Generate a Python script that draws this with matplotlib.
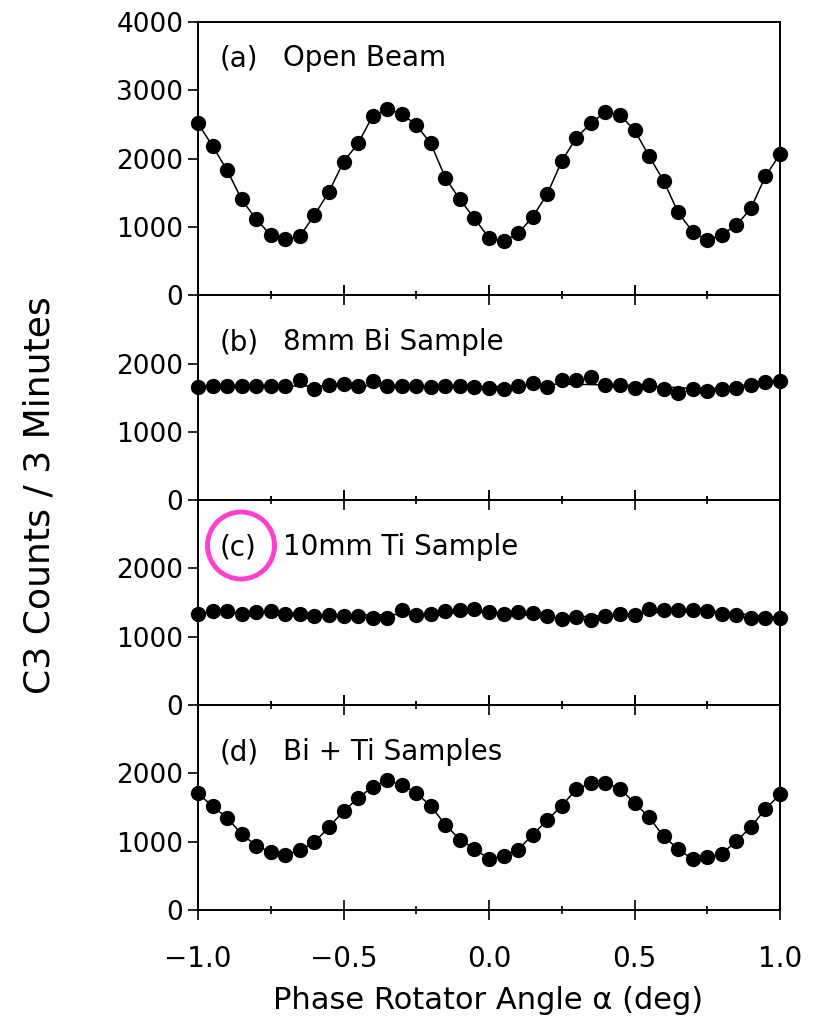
import matplotlib
matplotlib.use("Agg")
import matplotlib.pyplot as plt
from matplotlib.patches import Ellipse
import numpy as np

# phase rotator angle (deg), 41 points
alpha = np.round(np.linspace(-1.0, 1.0, 41), 2)

# (a) open beam
cnt_a = [2516, 2183, 1831, 1402, 1113, 879, 816, 864, 1172, 1514, 1953,
         2222, 2623, 2720, 2657, 2491, 2222, 1719, 1402, 1124, 840,
         791, 904, 1148, 1480, 1963, 2305, 2516, 2686, 2637, 2418,
         2037, 1675, 1212, 928, 806, 889, 1026, 1270, 1744, 2062]
# (b) 8mm Bi sample
cnt_b = [1652, 1667, 1676, 1676, 1676, 1667, 1667, 1760, 1627, 1680, 1700,
         1667, 1740, 1667, 1667, 1667, 1660, 1667, 1667, 1660, 1642,
         1627, 1676, 1716, 1657, 1755, 1765, 1804, 1691, 1691, 1642,
         1691, 1627, 1569, 1632, 1593, 1627, 1642, 1691, 1725, 1740]
# (c) 10mm Ti sample
cnt_c = [1338, 1373, 1382, 1333, 1358, 1373, 1338, 1338, 1309, 1314, 1309,
         1309, 1275, 1275, 1397, 1324, 1338, 1373, 1397, 1407, 1358,
         1338, 1363, 1348, 1309, 1260, 1289, 1250, 1299, 1338, 1324,
         1407, 1387, 1397, 1387, 1382, 1338, 1324, 1275, 1275, 1275]
# (d) Bi + Ti samples
cnt_d = [1706, 1520, 1348, 1113, 941, 848, 809, 873, 990, 1216, 1446,
         1637, 1804, 1897, 1828, 1716, 1520, 1250, 1029, 897, 745,
         794, 882, 1103, 1314, 1529, 1765, 1863, 1863, 1775, 1569,
         1358, 1078, 892, 745, 775, 824, 1005, 1216, 1480, 1691]

# fitted curves for the flat panels
fit_x = [-1.0, -0.75, -0.5, -0.25, 0.0, 0.25, 0.5, 0.75, 1.0]
fit_b = [1660, 1668, 1675, 1668, 1660, 1700, 1680, 1625, 1740]
fit_c = [1350, 1355, 1315, 1330, 1360, 1275, 1340, 1385, 1275]

tags = ["(a)", "(b)", "(c)", "(d)"]
titles = ["Open Beam", "8mm Bi Sample", "10mm Ti Sample", "Bi + Ti Samples"]
label_y = [0.868, 0.771, 0.771, 0.771]
ylims = [4000, 3000, 3000, 3000]
yticks_a = [0, 1000, 2000, 3000, 4000]
yticks_bcd = [0, 1000, 2000]
xticks = [-1.0, -0.5, 0.0, 0.5, 1.0]
xticklabels = ["\u22121.0", "\u22120.5", "0.0", "0.5", "1.0"]

plt.rcParams['font.family'] = 'DejaVu Sans'
fig = plt.figure(figsize=(8.16, 10.21), dpi=100)
gs = fig.add_gridspec(4, 1, height_ratios=[4, 3, 3, 3], hspace=0,
                      left=198/816, right=780/816, top=1-22/1021, bottom=1-910/1021)

data = [cnt_a, cnt_b, cnt_c, cnt_d]
for i in range(4):
    ax = fig.add_subplot(gs[i])
    if i == 0 or i == 3:
        ax.plot(alpha, data[i], color="black", linewidth=1.1, zorder=2)
    elif i == 1:
        ax.plot(fit_x, fit_b, color="black", linewidth=1.1, zorder=2)
    else:
        ax.plot(fit_x, fit_c, color="black", linewidth=1.1, zorder=2)
    ax.plot(alpha, data[i], "o", color="black", markersize=10, zorder=3, clip_on=False)
    ax.set_xlim(-1.0, 1.0)
    ax.set_ylim(0, ylims[i])
    if i == 0:
        ax.set_yticks(yticks_a)
    else:
        ax.set_yticks(yticks_bcd)
    ax.set_xticks(xticks)
    ax.set_xticks([-0.75, -0.25, 0.25, 0.75], minor=True)
    top_ticks = i > 0
    ax.tick_params(axis="x", which="major", direction="inout", length=14, width=1.2,
                   top=top_ticks, bottom=True, labelsize=20, pad=18)
    ax.tick_params(axis="x", which="minor", direction="inout", length=6, width=1.2,
                   top=top_ticks, bottom=True)
    ax.tick_params(axis="y", direction="out", length=7, width=1.2, labelsize=19, pad=3.5)
    if i == 3:
        ax.set_xticklabels(xticklabels)
    else:
        ax.set_xticklabels([])
    for s in ax.spines.values():
        s.set_linewidth(1.4)
    ax.text(0.038, label_y[i], tags[i], transform=ax.transAxes, fontsize=20,
            ha="left", va="center")
    ax.text(0.146, label_y[i], titles[i], transform=ax.transAxes, fontsize=20,
            ha="left", va="center")

fig.text(40/816, 1-495/1021, "C3 Counts / 3 Minutes", rotation=90, fontsize=26,
         ha="center", va="center")
fig.text(488/816, 1-1000/1021, "Phase Rotator Angle \u03b1 (deg)", fontsize=22,
         ha="center", va="center")

# highlight ring around "(c)"
ring = Ellipse((241/816, 1-545.5/1021), 67/816, 67/1021, transform=fig.transFigure,
               fill=False, edgecolor="#ff3fd0", linewidth=3.5, zorder=10)
fig.patches.append(ring)

fig.savefig("out.png", dpi=100)
